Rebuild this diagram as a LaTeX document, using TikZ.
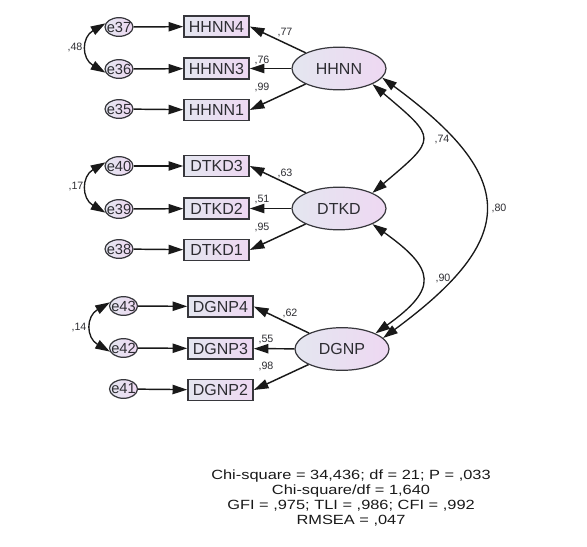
\documentclass[tikz,border=0pt]{standalone}
\usepackage{fontspec}
\setmainfont{Liberation Sans}
\usetikzlibrary{arrows.meta,shapes.geometric}
\definecolor{edgegray}{RGB}{55,55,60}
\definecolor{textgray}{RGB}{45,45,50}
\definecolor{fillleft}{RGB}{228,230,240}
\definecolor{fillright}{RGB}{238,216,242}
\tikzset{
  errnode/.style={ellipse,draw=edgegray,line width=0.9pt,minimum width=21pt,minimum height=14pt,inner sep=0pt,
    left color=fillleft,right color=fillright,font=\fontsize{11}{13}\selectfont,text=textgray},
  obsnode/.style={rectangle,draw=edgegray,line width=1.2pt,minimum width=48.75pt,minimum height=15.75pt,inner sep=0pt,
    left color=fillleft,right color=fillright,font=\fontsize{12}{14}\selectfont,text=textgray},
  latnode/.style={ellipse,draw=edgegray,line width=0.9pt,minimum width=70.5pt,minimum height=32pt,inner sep=0pt,
    left color=fillleft,right color=fillright,font=\fontsize{12}{14}\selectfont,text=textgray},
  pathedge/.style={-{Triangle[length=11pt,width=7pt]},line width=1.1pt,draw=black!90},
  covedge/.style={{Triangle[length=11pt,width=7pt]}-{Triangle[length=11pt,width=7pt]},line width=1pt,draw=black!90},
  estlabel/.style={font=\fontsize{8}{9}\selectfont,text=textgray,inner sep=0pt},
  fitnote/.style={font=\fontsize{10}{11.25}\selectfont,align=center,inner sep=0pt,text=black!90,xscale=1.23}
}
\begin{document}
\begin{tikzpicture}[x=0.75pt,y=-0.75pt]
  \useasboundingbox (0,0) rectangle (587,547);
  % HHNN block
  \node[errnode] (e37) at (119,27) {\makebox[0pt]{e37}};
  \node[errnode] (e36) at (119,69) {\makebox[0pt]{e36}};
  \node[errnode] (e35) at (119,109) {\makebox[0pt]{e35}};
  \node[obsnode] (HHNN4) at (216.5,26.5) {HHNN4};
  \node[obsnode] (HHNN3) at (216.5,68.5) {HHNN3};
  \node[obsnode] (HHNN1) at (216.5,110) {HHNN1};
  \node[latnode] (HHNN) at (339,68.5) {HHNN};
  \draw[pathedge] (e37) -- (HHNN4);
  \draw[pathedge] (e36) -- (HHNN3);
  \draw[pathedge] (e35) -- (HHNN1);
  \draw[pathedge] (HHNN) -- (HHNN4.east);
  \draw[pathedge] (HHNN) -- (HHNN3);
  \draw[pathedge] (HHNN) -- (HHNN1.east);
  \draw[covedge] (e37.165) .. controls +(-24,14) and +(-24,-14) .. (e36.195);
  \node[estlabel] (l77) at (285,33) {,77};
  \node[estlabel] (l76) at (262,60) {,76};
  \node[estlabel] (l99) at (262,87) {,99};
  \node[estlabel] (l48) at (75,47) {,48};
  % DTKD block
  \node[errnode] (e40) at (119,166) {\makebox[0pt]{e40}};
  \node[errnode] (e39) at (119,209) {\makebox[0pt]{e39}};
  \node[errnode] (e38) at (119,249) {\makebox[0pt]{e38}};
  \node[obsnode] (DTKD3) at (216.5,166) {DTKD3};
  \node[obsnode] (DTKD2) at (216.5,208.5) {DTKD2};
  \node[obsnode] (DTKD1) at (216.5,250) {DTKD1};
  \node[latnode] (DTKD) at (339,208.5) {DTKD};
  \draw[pathedge] (e40) -- (DTKD3);
  \draw[pathedge] (e39) -- (DTKD2);
  \draw[pathedge] (e38) -- (DTKD1);
  \draw[pathedge] (DTKD) -- (DTKD3.east);
  \draw[pathedge] (DTKD) -- (DTKD2);
  \draw[pathedge] (DTKD) -- (DTKD1.east);
  \draw[covedge] (e40.165) .. controls +(-24,14) and +(-24,-14) .. (e39.195);
  \node[estlabel] (l63) at (285,173) {,63};
  \node[estlabel] (l51) at (262,200) {,51};
  \node[estlabel] (l95) at (262,227) {,95};
  \node[estlabel] (l17) at (76,187) {,17};
  % DGNP block
  \node[errnode] (e43) at (123.5,306) {\makebox[0pt]{e43}};
  \node[errnode] (e42) at (123.5,348) {\makebox[0pt]{e42}};
  \node[errnode] (e41) at (123.5,389) {\makebox[0pt]{e41}};
  \node[obsnode] (DGNP4) at (220.5,306.5) {DGNP4};
  \node[obsnode] (DGNP3) at (220.5,348.5) {DGNP3};
  \node[obsnode] (DGNP2) at (220.5,390) {DGNP2};
  \node[latnode] (DGNP) at (342,349) {DGNP};
  \draw[pathedge] (e43) -- (DGNP4);
  \draw[pathedge] (e42) -- (DGNP3);
  \draw[pathedge] (e41) -- (DGNP2);
  \draw[pathedge] (DGNP) -- (DGNP4.east);
  \draw[pathedge] (DGNP) -- (DGNP3);
  \draw[pathedge] (DGNP) -- (DGNP2.east);
  \draw[covedge] (e43.165) .. controls +(-24,14) and +(-24,-14) .. (e42.195);
  \node[estlabel] (l62) at (290,313) {,62};
  \node[estlabel] (l55) at (266,340) {,55};
  \node[estlabel] (l98) at (266,366) {,98};
  \node[estlabel] (l14) at (79,328) {,14};
  % correlations between factors
  \draw[covedge] (HHNN.-25) .. controls +(65,55) and +(65,-55) .. (DTKD.25);
  \draw[covedge] (DTKD.-25) .. controls +(63,45) and +(63,-45) .. (DGNP.25);
  \draw[covedge] (HHNN.-12) .. controls +(136,100) and +(136,-100) .. (DGNP.15);
  \node[estlabel] (l74) at (442,140) {,74};
  \node[estlabel] (l90) at (443,278) {,90};
  \node[estlabel] (l80) at (499,208) {,80};
  % model fit
  \node[fitnote] (fit) at (351,498.5) {Chi-square = 34,436; df = 21; P = ,033\\Chi-square/df = 1,640\\GFI = ,975; TLI = ,986; CFI = ,992\\RMSEA = ,047};
\end{tikzpicture}
\end{document}
